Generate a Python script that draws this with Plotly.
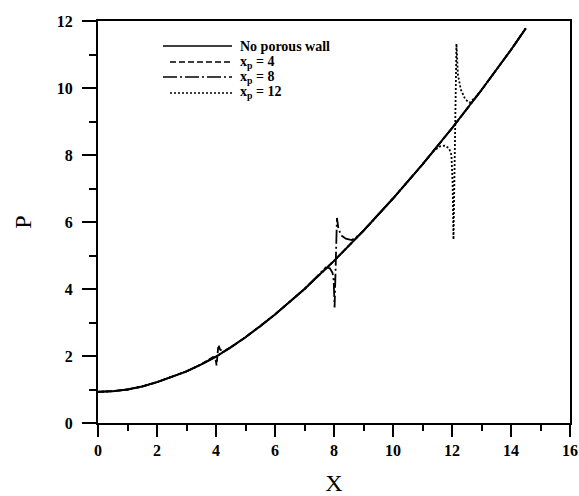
import plotly.graph_objects as go

# Pressure along the channel without a porous wall
x_base = [0, 0.5, 1, 1.5, 2, 2.5, 3, 3.5, 4, 4.5, 5, 5.5, 6, 7, 8, 9, 10, 11,
          12, 13, 14, 14.5]
p_base = [0.93, 0.95, 1.00, 1.09, 1.22, 1.37, 1.54, 1.75, 1.98, 2.26, 2.56, 2.89,
          3.24, 4.00, 4.84, 5.74, 6.70, 7.72, 8.80, 9.94, 11.14, 11.78]

# Porous wall at x_p = 4
x_p4 = [0, 0.5, 1, 1.5, 2, 2.5, 3, 3.5, 3.7, 3.9, 3.98, 4.02, 4.08, 4.14, 4.25,
        4.5, 5, 5.5, 6, 7, 8, 9, 10, 11, 12, 13, 14, 14.5]
p_p4 = [0.93, 0.95, 1.00, 1.09, 1.22, 1.37, 1.54, 1.75, 1.85, 1.97, 1.94, 1.72,
        2.33, 2.19, 2.13, 2.26, 2.56, 2.89, 3.24, 4.00, 4.84, 5.74, 6.70, 7.72,
        8.80, 9.94, 11.14, 11.78]

# Porous wall at x_p = 8
x_p8 = [0, 0.5, 1, 1.5, 2, 2.5, 3, 3.5, 4, 4.5, 5, 5.5, 6, 7, 7.3, 7.55, 7.72,
        7.86, 7.95, 7.99, 8.02, 8.1, 8.15, 8.25, 8.4, 8.6, 8.8, 9, 10, 11, 12, 13,
        14, 14.5]
p_p8 = [0.93, 0.95, 1.00, 1.09, 1.22, 1.37, 1.54, 1.75, 1.98, 2.26, 2.56, 2.89,
        3.24, 4.00, 4.26, 4.50, 4.64, 4.62, 4.48, 4.25, 3.45, 6.12, 5.80, 5.60,
        5.50, 5.46, 5.58, 5.74, 6.70, 7.72, 8.80, 9.94, 11.14, 11.78]

# Porous wall at x_p = 12
x_p12 = [0, 0.5, 1, 1.5, 2, 2.5, 3, 3.5, 4, 4.5, 5, 5.5, 6, 7, 8, 9, 10, 11, 11.4,
         11.6, 11.76, 11.9, 11.98, 12.02, 12.05, 12.15, 12.2, 12.3, 12.45, 12.6,
         12.8, 13, 14, 14.5]
p_p12 = [0.93, 0.95, 1.00, 1.09, 1.22, 1.37, 1.54, 1.75, 1.98, 2.26, 2.56, 2.89,
         3.24, 4.00, 4.84, 5.74, 6.70, 7.72, 8.14, 8.26, 8.28, 8.20, 8.00, 7.20,
         5.48, 11.32, 10.40, 9.95, 9.66, 9.56, 9.73, 9.94, 11.14, 11.78]

x_ticks = list(range(0, 17, 2))
y_ticks = list(range(0, 13, 2))

series = [
    ("No porous wall", x_base, p_base, "solid", 2.0),
    ("x<sub>p</sub> = 4", x_p4, p_p4, "6px,3px", 1.8),
    ("x<sub>p</sub> = 8", x_p8, p_p8, "14px,3px,2px,3px", 1.8),
    ("x<sub>p</sub> = 12", x_p12, p_p12, "2px,2px", 1.8),
]

fig = go.Figure()
for name, xs, ys, dash, w in series:
    fig.add_trace(go.Scatter(x=xs, y=ys, mode="lines", name=name,
                             line=dict(color="black", width=w, dash=dash),
                             showlegend=False))

# Hand-placed key in the upper left of the plot
L, R = 98, 570
T, B = 21, 423
def px(xp):
    return (xp - L) / (R - L)
def py(yp):
    return (B - yp) / (B - T)

rows = [46, 62, 77, 93]
for (name, _, _, dash, _), yrow in zip(series, rows):
    x0 = 163 if dash in ("solid", "14px,3px,2px,3px") else 170
    fig.add_shape(type="line", xref="paper", yref="paper",
                  x0=px(x0), x1=px(232), y0=py(yrow), y1=py(yrow),
                  line=dict(color="black", width=1.6, dash=dash))
    fig.add_annotation(xref="paper", yref="paper", x=px(238), y=py(yrow),
                       text=name, showarrow=False, xanchor="left", yanchor="middle",
                       font=dict(family="Liberation Serif", size=14, color="black",
                                 weight="bold"))

tick_font = dict(family="Liberation Serif", size=16, color="black", weight="bold")
axis_common = dict(showgrid=False, zeroline=False, showline=True, linecolor="black",
                   linewidth=2, mirror=True, ticks="outside", tickcolor="black",
                   tickwidth=2, tickfont=tick_font)

fig.update_xaxes(range=[0, 16], tickvals=x_ticks, ticklen=12,
                 minor=dict(dtick=1, ticks="outside", ticklen=6, tickwidth=2,
                            tickcolor="black"),
                 title=dict(text="X", font=dict(family="Liberation Serif", size=24,
                                                color="black"), standoff=16),
                 **axis_common)
fig.update_yaxes(range=[0, 12], tickvals=y_ticks, ticklen=14, ticklabelstandoff=6,
                 minor=dict(dtick=1, ticks="outside", ticklen=7, tickwidth=2,
                            tickcolor="black"),
                 title=dict(text="P", font=dict(family="Liberation Serif", size=24,
                                                color="black"), standoff=18),
                 **axis_common)

fig.update_layout(width=579, height=496,
                  margin=dict(l=L, r=579 - R, t=T, b=496 - B, autoexpand=False),
                  plot_bgcolor="white", paper_bgcolor="white")

fig.write_html("out.html")
